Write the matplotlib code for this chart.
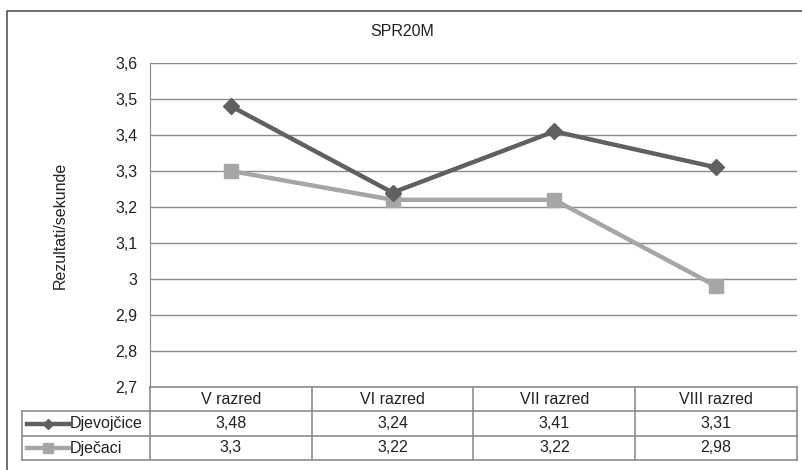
import matplotlib.pyplot as plt
from matplotlib.patches import Rectangle
from matplotlib.lines import Line2D
import matplotlib.transforms as mtransforms

plt.rcParams['font.family'] = ['Liberation Sans', 'DejaVu Sans']

razredi = ['V razred', 'VI razred', 'VII razred', 'VIII razred']
djevojcice = [3.48, 3.24, 3.41, 3.31]
djecaci = [3.30, 3.22, 3.22, 2.98]
y_ticks = [2.7, 2.8, 2.9, 3.0, 3.1, 3.2, 3.3, 3.4, 3.5, 3.6]

W, H = 803, 470
FS = 11.5
TXT = '#222222'
fig = plt.figure(figsize=(W / 100, H / 100), dpi=100)

def px(x0, y0, x1, y1):
    return [x0 / W, 1 - y1 / H, (x1 - x0) / W, (y1 - y0) / H]

def fmt(v):
    return f'{v:g}'.replace('.', ',')

# outer chart frame (continues past the right/bottom edge)
fig.patches.append(Rectangle((7 / W, -0.1), 1.1, 1 - 11 / H + 0.1,
                             transform=fig.transFigure, fill=False,
                             edgecolor='#555555', linewidth=1.2))

ax = fig.add_axes(px(150, 63, 797, 387))
x = range(len(razredi))
ax.set_xlim(-0.5, len(razredi) - 0.5)
ax.set_ylim(2.7, 3.6)
ax.set_yticks(y_ticks)
ax.set_yticklabels([fmt(v) for v in y_ticks], fontsize=FS, color=TXT)
ax.set_xticks([])
ax.tick_params(axis='y', length=0, pad=9)
ax.grid(axis='y', color='#8c8c8c', linewidth=1)
for s in ['top', 'right', 'bottom']:
    ax.spines[s].set_visible(False)
ax.spines['left'].set_color('#8c8c8c')

c_dj = '#606060'
c_dc = '#a6a6a6'
ax.plot(x, djevojcice, color=c_dj, linewidth=3.2, marker='D', markersize=8, zorder=3)
ax.plot(x, djecaci, color=c_dc, linewidth=3.2, marker='s', markersize=10, zorder=2)

ax.set_ylabel('Rezultati/sekunde', fontsize=FS, color=TXT, labelpad=34)
fig.text(402 / W, 1 - 31 / H, 'SPR20M', ha='center', va='center', fontsize=FS, color=TXT)

# data table under the plot: x in data units, y in axes fraction
tr = mtransforms.blended_transform_factory(ax.transData, ax.transAxes)
ph = 387 - 63
rows_px = [387, 411, 436, 460]
ry = [(387 - r) / ph for r in rows_px]
span = (797 - 150) / len(razredi)
x_left_legend = -0.5 - (150 - 22) / span
grid_kw = dict(color='#8c8c8c', linewidth=1.2, clip_on=False)

# horizontal lines
ax.add_line(Line2D([-0.5, 3.5], [ry[0], ry[0]], transform=tr, **grid_kw))
for yy in ry[1:]:
    ax.add_line(Line2D([x_left_legend, 3.5], [yy, yy], transform=tr, **grid_kw))
# vertical lines
for xx in [-0.5, 0.5, 1.5, 2.5, 3.5]:
    ax.add_line(Line2D([xx, xx], [ry[0], ry[3]], transform=tr, **grid_kw))
ax.add_line(Line2D([x_left_legend, x_left_legend], [ry[1], ry[3]], transform=tr, **grid_kw))

mid = lambda a, b: (a + b) / 2
for i, r in enumerate(razredi):
    ax.text(i, mid(ry[0], ry[1]), r, transform=tr, ha='center', va='center',
            fontsize=FS, color=TXT)
    ax.text(i, mid(ry[1], ry[2]), fmt(djevojcice[i]), transform=tr, ha='center',
            va='center', fontsize=FS, color=TXT)
    ax.text(i, mid(ry[2], ry[3]), fmt(djecaci[i]), transform=tr, ha='center',
            va='center', fontsize=FS, color=TXT)

# legend keys inside the table
kx0 = x_left_legend + 5 / span
kx1 = x_left_legend + 47 / span
for yy, col, mk, ms, name in [(mid(ry[1], ry[2]), c_dj, 'D', 5, 'Djevojčice'),
                              (mid(ry[2], ry[3]), c_dc, 's', 7, 'Dječaci')]:
    ax.add_line(Line2D([kx0, kx1], [yy, yy], transform=tr, color=col,
                       linewidth=3.2, clip_on=False))
    ax.add_line(Line2D([(kx0 + kx1) / 2], [yy], transform=tr, color=col,
                       marker=mk, markersize=ms, clip_on=False))
    ax.text(kx1 + 1 / span, yy, name, transform=tr, ha='left', va='center',
            fontsize=FS, color=TXT)

fig.savefig('out.png', dpi=100)
